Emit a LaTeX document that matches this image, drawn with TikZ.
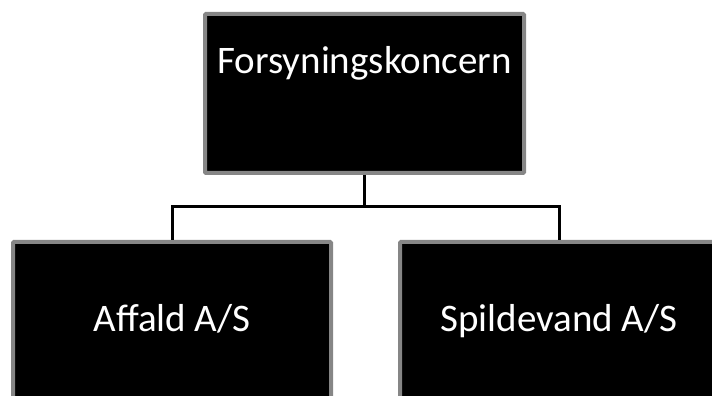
\documentclass[tikz,border=0pt]{standalone}
\usepackage{fontspec}
\setmainfont{Carlito}
\begin{document}
\begin{tikzpicture}[x=1pt,y=1pt,
  orgbox/.style={draw=gray!95!white, fill=black, line width=4pt, inner sep=0pt,
    text=white, font=\fontsize{39}{43}\selectfont, rounded corners=1pt},
  link/.style={draw=black, line width=3pt}]
\useasboundingbox (0,0) rectangle (712,396);
\clip (0,0) rectangle (712,396);
\node[orgbox, minimum width=319pt, text height=60pt, text depth=99pt] (top) at (364.5,302.5) {Forsyningskoncern};
\node[orgbox, minimum width=318pt, text height=90pt, text depth=88pt] (left) at (172,65) {Affald A/S};
\node[orgbox, minimum width=318pt, text height=90pt, text depth=88pt] (right) at (559,65) {Spildevand A/S};
\coordinate (bus) at (364.5,189);
\draw[link] (top.south) -- (bus);
\draw[link] (bus) -| (left.north);
\draw[link] (bus) -| (right.north);
\end{tikzpicture}
\end{document}
